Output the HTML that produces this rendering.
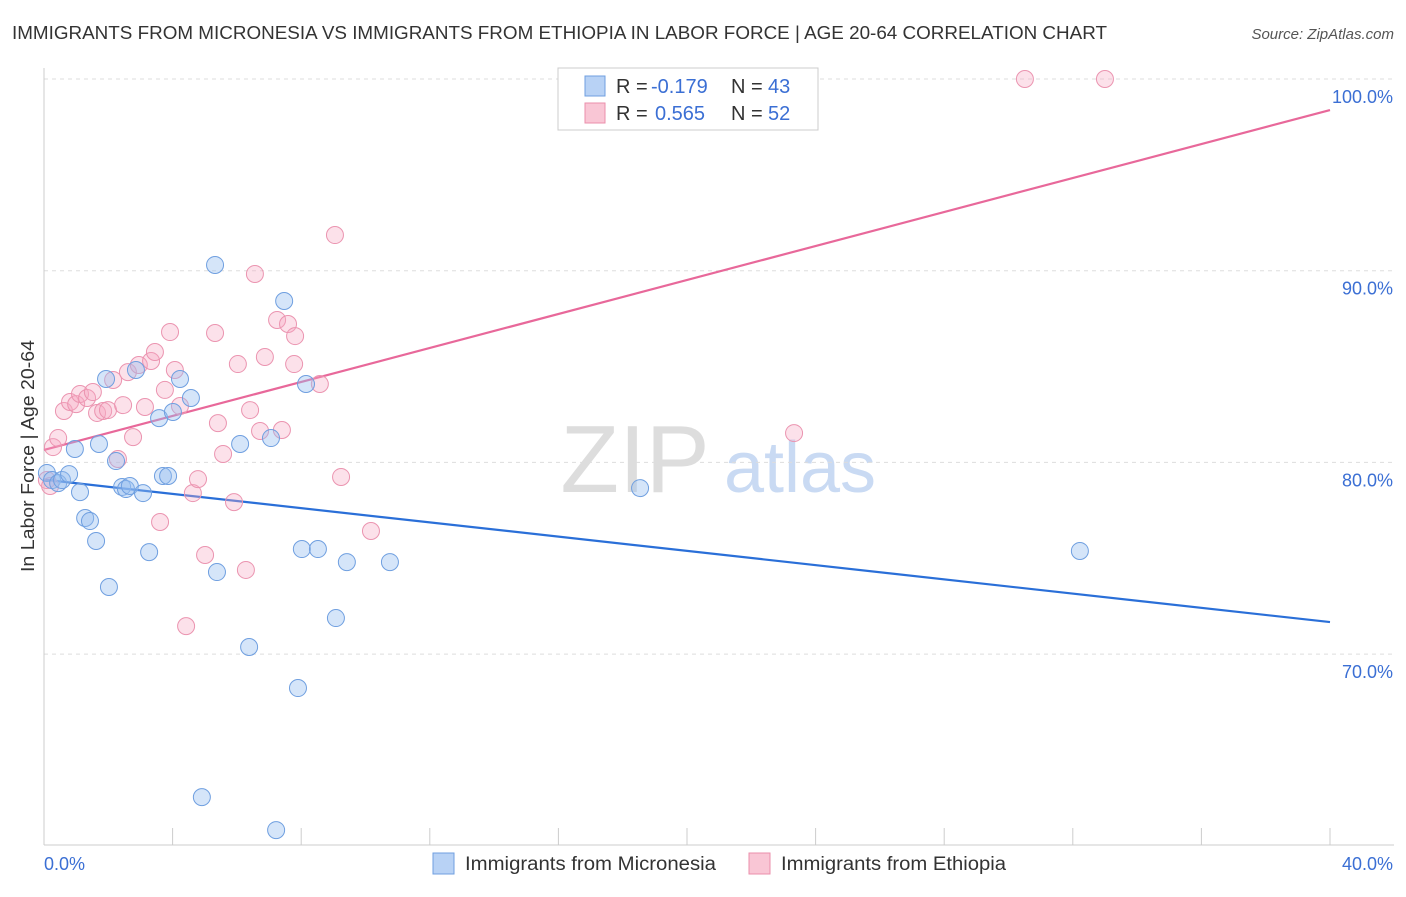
<!DOCTYPE html>
<html><head><meta charset="utf-8"><style>
body{margin:0;background:#fff;font-family:"Liberation Sans",sans-serif;}
svg text{font-family:"Liberation Sans",sans-serif;}
</style></head><body>
<svg id="chart" width="1406" height="892" xmlns="http://www.w3.org/2000/svg">
<text x="12" y="39" font-size="18" fill="#333" textLength="1095" lengthAdjust="spacingAndGlyphs">IMMIGRANTS FROM MICRONESIA VS IMMIGRANTS FROM ETHIOPIA IN LABOR FORCE | AGE 20-64 CORRELATION CHART</text>
<text x="1394" y="39" font-size="15" fill="#555" font-style="italic" text-anchor="end">Source: ZipAtlas.com</text>
<text x="34" y="572" font-size="18" fill="#333" textLength="232" lengthAdjust="spacingAndGlyphs" transform="rotate(-90 34 572)">In Labor Force | Age 20-64</text>
<g><text x="635" y="492" font-size="96" fill="#ddd" font-family="Liberation Serif" text-anchor="middle">ZIP</text><text x="800" y="492" font-size="72" fill="#c9daf3" text-anchor="middle">atlas</text></g>
<g id="grid"></g><g id="axes"></g><g id="lines"></g><g id="pts"></g>
<g>
<rect x="558" y="68" width="260" height="62" fill="#fff" stroke="#ccc"/>
<rect x="585" y="76" width="20" height="20" fill="#b8d2f5" stroke="#6f9fe0"/>
<rect x="585" y="103" width="20" height="20" fill="#f9c6d5" stroke="#eb8fab"/>
<text y="93" font-size="20" fill="#333"><tspan x="616">R =</tspan><tspan x="651" fill="#3b6fd4">-0.179</tspan><tspan x="731">N =</tspan><tspan x="768" fill="#3b6fd4">43</tspan></text>
<text y="120" font-size="20" fill="#333"><tspan x="616">R =</tspan><tspan x="655" fill="#3b6fd4">0.565</tspan><tspan x="731">N =</tspan><tspan x="768" fill="#3b6fd4">52</tspan></text>
</g>
<g>
<rect x="433" y="853" width="21" height="21" fill="#b8d2f5" stroke="#6f9fe0"/>
<text x="465" y="870" font-size="19" fill="#333" textLength="251" lengthAdjust="spacingAndGlyphs">Immigrants from Micronesia</text>
<rect x="749" y="853" width="21" height="21" fill="#f9c6d5" stroke="#eb8fab"/>
<text x="781" y="870" font-size="19" fill="#333" textLength="225" lengthAdjust="spacingAndGlyphs">Immigrants from Ethiopia</text>
</g>
</svg>
<script>
const blueX=[0.09,0.25,0.44,0.56,0.78,0.96,1.12,1.28,1.43,1.62,1.71,1.93,2.02,2.24,2.43,2.55,2.67,2.86,3.08,3.27,3.58,3.70,3.86,4.01,4.23,4.57,5.32,5.38,6.10,6.38,7.06,7.47,7.90,8.02,8.15,8.52,9.08,9.42,10.76,4.91,7.22,18.54,32.22];
const blueY=[79.45,79.08,78.92,79.08,79.39,80.70,78.45,77.10,76.94,75.90,80.96,84.35,73.50,80.07,78.72,78.61,78.77,84.82,78.40,75.32,82.31,79.29,79.29,82.63,84.35,83.36,90.30,74.28,80.96,70.37,81.27,88.42,68.23,75.48,84.09,75.48,71.88,74.80,74.80,62.54,60.82,78.66,75.38];
const pinkX=[0.09,0.19,0.28,0.44,0.62,0.81,1.00,1.12,1.34,1.52,1.65,1.84,1.99,2.15,2.30,2.46,2.61,2.77,2.95,3.14,3.33,3.45,3.61,3.76,3.92,4.07,4.23,4.42,4.63,4.79,5.01,5.32,5.41,5.57,5.91,6.03,6.28,6.41,6.56,6.72,6.87,7.25,7.40,7.59,7.78,7.81,8.58,9.05,9.24,10.17,23.33,30.51,33.00];
const pinkY=[79.08,78.77,80.80,81.27,82.68,83.15,83.04,83.57,83.36,83.67,82.58,82.68,82.73,84.30,80.18,82.99,84.71,81.32,85.08,82.89,85.29,85.76,76.89,83.78,86.80,84.82,82.94,71.46,78.40,79.13,75.17,86.75,82.05,80.44,77.93,85.13,74.39,82.73,89.83,81.64,85.50,87.43,81.69,87.22,85.13,86.59,84.09,91.86,79.24,76.42,81.53,100,100];
const blueTrend=[79.1,71.67];
const pinkTrend=[80.65,98.38];
const yTicks=[100,90,80,70];
const yTickLabels=["100.0%","90.0%","80.0%","70.0%"];
const xEnds=[0,40];
const xEndLabels=["0.0%","40.0%"];
const NS="http://www.w3.org/2000/svg";
const X=v=>44+v/40*1286;
const Y=v=>79+(100-v)*19.17;
function mk(t,a,p){const e=document.createElementNS(NS,t);for(const k in a)e.setAttribute(k,a[k]);document.getElementById(p).appendChild(e);return e;}
yTicks.forEach((t,i)=>{
 const g=mk('line',{x1:44,x2:1394,y1:Y(t),y2:Y(t),stroke:'#ddd','stroke-dasharray':'4,4'},'grid');
 
 
 const l=mk('text',{x:1393,y:Y(t)+24,'font-size':18,fill:'#3b6fd4','text-anchor':'end'},'axes');
 l.textContent=yTickLabels[i];
 
 
});
const ax=mk('line',{x1:44,x2:44,y1:68,y2:845,stroke:'#ccc'},'axes');


const bx=mk('line',{x1:44,x2:1394,y1:845,y2:845,stroke:'#ccc'},'axes');


for(let i=0;i<=10;i++){const t=mk('line',{x1:X(i*4),x2:X(i*4),y1:828,y2:845,stroke:'#ccc'},'axes');
 
 }
xEnds.forEach((v,i)=>{const l=mk('text',{x:i?1393:44,y:870,'font-size':18,fill:'#3b6fd4','text-anchor':i?'end':'start'},'axes');
 l.textContent=xEndLabels[i];
 
 });
pinkX.forEach((v,i)=>{const c=mk('circle',{cx:X(v),cy:Y(pinkY[i]),r:8.5,fill:'rgba(246,170,195,0.35)',stroke:'#eb94b0','stroke-width':1},'pts');
 
 });
blueX.forEach((v,i)=>{const c=mk('circle',{cx:X(v),cy:Y(blueY[i]),r:8.5,fill:'rgba(150,190,240,0.4)',stroke:'#6f9fe0','stroke-width':1},'pts');
 
 });
const bl=mk('line',{x1:X(xEnds[0]),x2:X(xEnds[1]),y1:Y(blueTrend[0]),y2:Y(blueTrend[1]),stroke:'#2a6fd8','stroke-width':2.2},'lines');


const pl=mk('line',{x1:X(xEnds[0]),x2:X(xEnds[1]),y1:Y(pinkTrend[0]),y2:Y(pinkTrend[1]),stroke:'#e8689a','stroke-width':2.2},'lines');


</script>
</body></html>
